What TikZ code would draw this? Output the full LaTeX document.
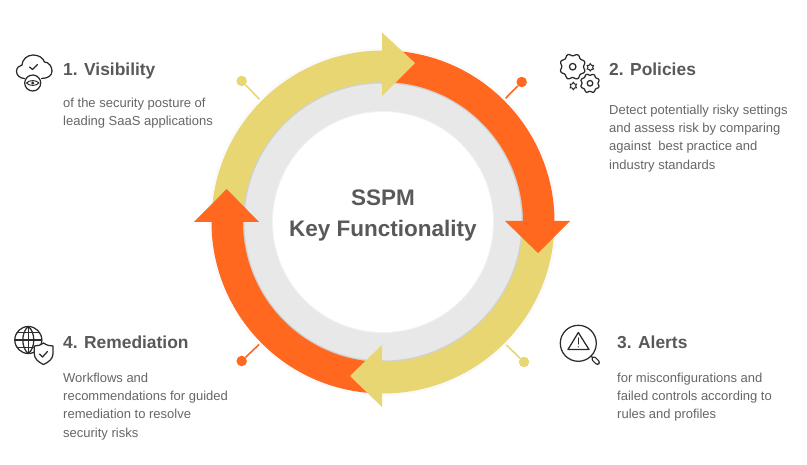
\documentclass[tikz,border=0pt]{standalone}
\usepackage{fontspec}
\setmainfont{Liberation Sans}
\definecolor{ylw}{HTML}{E8D672}
\definecolor{org}{HTML}{FF681E}
\definecolor{ink}{HTML}{595959}
\definecolor{body}{HTML}{666666}
\definecolor{ico}{HTML}{2B2B2B}
\tikzset{
  dotnode/.style={circle,inner sep=0pt,minimum size=10.5pt,fill=#1},
  link/.style={line width=1.6pt,draw=#1},
  heading/.style={anchor=base west,inner sep=0pt,text=ink,font=\fontsize{17.4}{20}\selectfont\bfseries},
  bodytext/.style={anchor=north west,inner sep=0pt,text=body,align=left,font=\fontsize{13}{18.3}\selectfont},
  title/.style={anchor=base,inner sep=0pt,text=ink,font=\fontsize{22.5}{26}\selectfont\bfseries},
  icon/.style={draw=ico,line width=1.25pt,line join=round,line cap=round,fill=none}
}
\newcommand{\bodyarc}[3]{\fill[#1] (#2:171.5pt) arc[start angle=#2,end angle=#3,radius=171.5pt] -- (#3:140pt) arc[start angle=#3,end angle=#2,radius=140pt] -- cycle;}
\newcommand{\geartooth}[4]{% cx cy rOuter rInner
  \draw[icon] plot[samples=57,domain=0:360,smooth cycle] ({#1+(#4+(#3-#4)*(0.5+0.5*cos(8*\x)))*cos(\x+22)},{#2+(#4+(#3-#4)*(0.5+0.5*cos(8*\x)))*sin(\x+22)});}
\newcommand{\minigear}[2]{%
  \draw[icon,line width=1pt] (#1,#2+3.8)--(#1+1.2,#2+2)--(#1+3.3,#2+1.9)--(#1+2.3,#2)--(#1+3.3,#2-1.9)--(#1+1.2,#2-2)--(#1,#2-3.8)--(#1-1.2,#2-2)--(#1-3.3,#2-1.9)--(#1-2.3,#2)--(#1-3.3,#2+1.9)--(#1-1.2,#2+2)--cycle;}
\begin{document}
\begin{tikzpicture}[x=1pt,y=1pt]
\useasboundingbox (0,0) rectangle (807,-465);
\fill[white] (0,0) rectangle (807,-465);

% lollipops
\node[dotnode=ylw] (d1) at (241.7,-81) {};
\node[dotnode=org] (d2) at (521.7,-82) {};
\node[dotnode=ylw] (d3) at (524,-362) {};
\node[dotnode=org] (d4) at (241.7,-361) {};
\coordinate (e1) at (268,-108);
\coordinate (e2) at (497,-107);
\coordinate (e3) at (497,-336);
\coordinate (e4) at (268,-336);
\draw[link=ylw] (d1) -- (e1);
\draw[link=org] (d2) -- (e2);
\draw[link=ylw] (d3) -- (e3);
\draw[link=org] (d4) -- (e4);

\begin{scope}[shift={(383,-222)}]
  % soft shadow and grey ring
  \fill[black!2] (0,0) circle (174pt);
  \fill[black!18] (0,0) circle (141.5pt);
  \fill[black!9] (0,0) circle (138.5pt);
  \fill[black!5] (0,0) circle (111pt);
  \fill[white] (0,0) circle (110pt);
  % arrow bodies
  \bodyarc{ylw}{177}{89}
  \bodyarc{org}{87}{-1}
  \bodyarc{ylw}{-3}{-91}
  \bodyarc{org}{-93}{-181}
\end{scope}
% arrow heads
\fill[ylw] (382,-32.5) -- (415,-63) -- (382,-96) -- cycle;
\fill[org] (505,-221) -- (570,-221) -- (538,-253) -- cycle;
\fill[ylw] (382,-345) -- (350,-376) -- (382,-407) -- cycle;
\fill[org] (194,-222) -- (259,-222) -- (226.7,-189) -- cycle;

% centre title
\node[title] (t1) at (383,-205.5) {SSPM};
\node[title] (t2) at (383,-237) {Key Functionality};

% headings and body
\node[heading] (h1) at (63,-76) {1. Visibility};
\node[bodytext] (b1) at (63,-98) {of the security posture of\\leading SaaS applications};
\node[heading] (h2) at (609,-76) {2. Policies};
\node[bodytext] (b2) at (609,-104.5) {Detect potentially risky settings\\and assess risk by comparing\\against\ \ best practice and\\industry standards};
\node[heading] (h3) at (617,-349) {3. Alerts};
\node[bodytext] (b3) at (617,-372.5) {for misconfigurations and\\failed controls according to\\rules and profiles};
\node[heading] (h4) at (63,-349) {4. Remediation};
\node[bodytext] (b4) at (63,-372.5) {Workflows and\\recommendations for guided\\remediation to resolve\\security risks};

% icon 1: cloud with eye
\draw[icon] (24.5,-78.5) .. controls (20,-78.5) and (16.5,-75) .. (16.5,-71.5) .. controls (16.5,-68) and (19,-65.5) .. (22,-65) .. controls (22,-60) and (27,-55) .. (33,-55) .. controls (39,-55) and (43,-58) .. (44.5,-62) .. controls (49,-62) and (52,-67) .. (52,-71) .. controls (52,-75.5) and (48,-78.5) .. (41.5,-78.5);
\draw[icon] (29.5,-67) -- (32.5,-69.5) -- (37.5,-64.5);
\draw[icon] (32.7,-83) circle (8pt);
\draw[icon,line width=1pt] (26.5,-83) .. controls (29,-79.8) and (36.4,-79.8) .. (38.9,-83) .. controls (36.4,-86.2) and (29,-86.2) .. (26.5,-83) -- cycle;
\fill[ico] (32.7,-83) circle (1.6pt);

% icon 2: gears
\geartooth{572.7}{-66.7}{13}{10.8}
\draw[icon] (572.7,-66.7) circle (3.3pt);
\geartooth{590}{-83.3}{9.6}{8}
\draw[icon] (590,-83.3) circle (2.8pt);
\minigear{590.3}{-67.3}
\minigear{573.3}{-86}

% icon 3: magnifier with warning
\draw[icon] (578.3,-343.3) circle (18pt);
\draw[icon] (578.3,-332.5) -- (589,-349.5) -- (568,-349.5) -- cycle;
\draw[icon,line width=1.1pt] (578.3,-338) -- (578.3,-344);
\fill[ico] (578.3,-346.8) circle (.7pt);
\draw[icon] (591,-356) -- (594,-359);
\draw[draw=ico,line width=5pt,line cap=round] (594,-359) -- (597.5,-362.5);
\draw[draw=white,line width=2.6pt,line cap=round] (594,-359) -- (597.5,-362.5);

% icon 4: globe with shield
\draw[icon] (28.3,-340) circle (13.5pt);
\draw[icon] (28.3,-326.5) .. controls (21,-332) and (21,-348) .. (28.3,-353.5);
\draw[icon] (28.3,-326.5) .. controls (35.6,-332) and (35.6,-348) .. (28.3,-353.5);
\draw[icon] (28.3,-326.5) -- (28.3,-353.5);
\draw[icon] (14.8,-340) -- (41.8,-340);
\draw[icon] (17,-332.5) -- (39.6,-332.5);
\draw[icon] (17,-347.5) -- (39.6,-347.5);
\draw[icon,fill=white] (43.5,-343) .. controls (40,-345.5) and (37,-346) .. (34.3,-346) -- (34.3,-354) .. controls (34.3,-359) and (39,-362.5) .. (43.5,-364.5) .. controls (48,-362.5) and (53,-359) .. (53,-354) -- (53,-346) .. controls (50,-346) and (47,-345.5) .. (43.5,-343) -- cycle;
\draw[icon] (39.5,-354) -- (42.5,-357) -- (47.5,-351.5);
\end{tikzpicture}
\end{document}
